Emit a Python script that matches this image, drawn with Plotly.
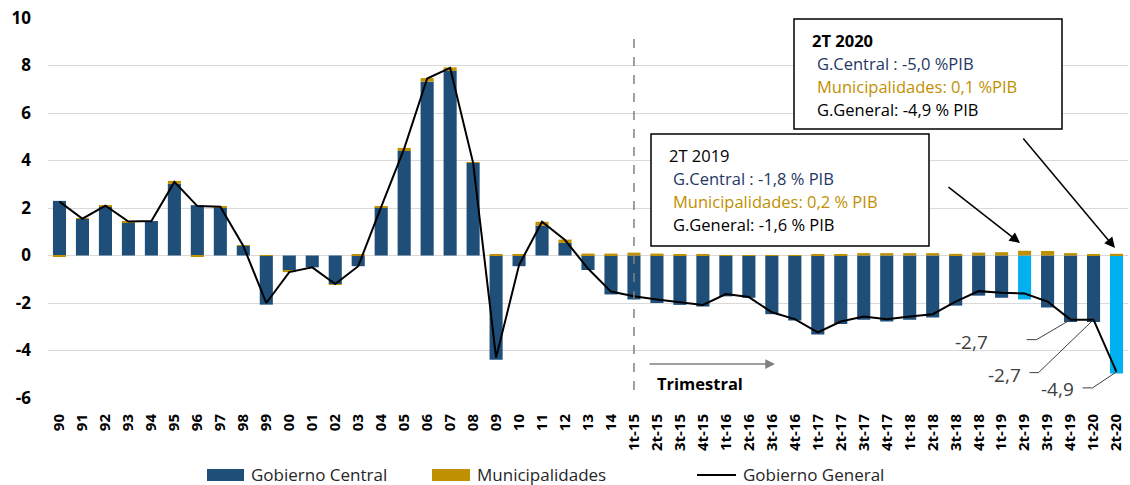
import plotly.graph_objects as go

# ---------------- data ----------------
categories = ["90", "91", "92", "93", "94", "95", "96", "97", "98", "99",
              "00", "01", "02", "03", "04", "05", "06", "07", "08", "09",
              "10", "11", "12", "13", "14",
              "1t-15", "2t-15", "3t-15", "4t-15", "1t-16", "2t-16", "3t-16", "4t-16",
              "1t-17", "2t-17", "3t-17", "4t-17", "1t-18", "2t-18", "3t-18", "4t-18",
              "1t-19", "2t-19", "3t-19", "4t-19", "1t-20", "2t-20"]

gob_central = [2.30, 1.55, 2.05, 1.39, 1.45, 3.02, 2.12, 2.00, 0.40, -2.07,
               -0.63, -0.50, -1.20, -0.45, 2.03, 4.40, 7.32, 7.77, 3.90, -4.39,
               -0.45, 1.25, 0.53, -0.61, -1.64,
               -1.85, -2.00, -2.08, -2.15, -1.72, -1.78, -2.47, -2.74,
               -3.33, -2.88, -2.71, -2.78, -2.71, -2.61, -2.11, -1.69,
               -1.78, -1.85, -2.19, -2.80, -2.80, -4.97]

municipalidades = [-0.03, 0.02, 0.07, 0.05, 0.00, 0.12, -0.05, 0.07, 0.02, 0.02,
                   -0.07, 0.00, -0.02, 0.03, 0.02, 0.13, 0.15, 0.15, 0.03, 0.06,
                   0.05, 0.17, 0.14, 0.08, 0.08,
                   0.12, 0.08, 0.06, 0.03, 0.02, 0.01, 0.02, 0.02,
                   0.03, 0.05, 0.10, 0.10, 0.10, 0.10, 0.07, 0.12,
                   0.14, 0.20, 0.19, 0.10, 0.04, 0.07]

gob_general = [2.27, 1.55, 2.10, 1.43, 1.45, 3.10, 2.08, 2.05, 0.40, -2.00,
               -0.70, -0.50, -1.20, -0.45, 2.05, 4.50, 7.45, 7.90, 3.90, -4.30,
               -0.40, 1.42, 0.65, -0.55, -1.52,
               -1.72, -1.85, -1.95, -2.08, -1.62, -1.75, -2.39, -2.68,
               -3.24, -2.78, -2.57, -2.68, -2.57, -2.47, -1.94, -1.50,
               -1.57, -1.60, -1.94, -2.70, -2.70, -4.90]

highlight = ["2t-19", "2t-20"]
labelled = ["4t-19", "1t-20", "2t-20"]

y_ticks = [-6, -4, -2, 0, 2, 4, 6, 8, 10]

# ---------------- style ----------------
C_GC = "#1F4E79"
C_HL = "#00B0F0"
C_MUN = "#BF9000"
C_TXT_GC = "#1F3864"
FONT = "Open Sans"

W, H = 1130, 485
L, R, T, B = 48, 1128, 18, 398


def px(x):
    return (x - L) / (R - L)


def py(y):
    return (B - y) / (B - T)


gc_colors = [C_HL if c in highlight else C_GC for c in categories]

fig = go.Figure()
fig.add_trace(go.Bar(x=categories, y=gob_central, name="Gobierno Central",
                     marker=dict(color=gc_colors, line=dict(width=0))))
fig.add_trace(go.Bar(x=categories, y=municipalidades, name="Municipalidades",
                     marker=dict(color=C_MUN, line=dict(width=0))))
fig.add_trace(go.Scatter(x=categories, y=gob_general, name="Gobierno General",
                         mode="lines", line=dict(color="black", width=2)))

fig.update_layout(
    width=W, height=H,
    margin=dict(l=L, r=W - R, t=T, b=H - B),
    barmode="relative",
    bargap=0.43,
    plot_bgcolor="white",
    paper_bgcolor="white",
    showlegend=False,
    font=dict(family=FONT, color="black"),
)

fig.update_xaxes(type="category", tickangle=-90, showgrid=False, showline=False,
                 ticks="", tickfont=dict(family=FONT, size=15, color="black", weight="bold"),
                 ticklabelstandoff=12)
fig.update_yaxes(range=[-6, 10], tickvals=y_ticks, ticktext=[str(v) for v in y_ticks],
                 showgrid=True, gridcolor="#D9D9D9",
                 gridwidth=1, zeroline=True, zerolinecolor="#D9D9D9", zerolinewidth=1,
                 showline=False, ticks="",
                 tickfont=dict(family=FONT, size=17, color="black", weight="bold"),
                 ticklabelstandoff=16)

shapes = []
annotations = []

# dashed separator at first quarterly category
sep_idx = categories.index("1t-15")
shapes.append(dict(type="line", xref="x", yref="paper", x0=sep_idx, x1=sep_idx,
                   y0=py(390), y1=py(32), line=dict(color="#808080", width=1.5, dash="dash")))

# Trimestral arrow and label
annotations.append(dict(xref="paper", yref="paper", x=px(775), y=py(364), ax=-127, ay=0,
                        axref="pixel", ayref="pixel", text="", showarrow=True,
                        arrowhead=2, arrowsize=1.3, arrowwidth=1.5, arrowcolor="#808080"))
annotations.append(dict(xref="paper", yref="paper", x=px(655), y=py(383), xanchor="left",
                        yanchor="middle", text="<b>Trimestral</b>", showarrow=False,
                        font=dict(family=FONT, size=16.5, color="black")))

# Boxes
shapes.append(dict(type="rect", xref="paper", yref="paper", x0=px(651), x1=px(929),
                   y0=py(246), y1=py(134), line=dict(color="black", width=1.5),
                   fillcolor="white"))
shapes.append(dict(type="rect", xref="paper", yref="paper", x0=px(794), x1=px(1062),
                   y0=py(129), y1=py(19), line=dict(color="black", width=1.5),
                   fillcolor="white"))

box_lines = [
    (667, 155, "2T 2019", "black"),
    (671, 178, "G.Central : -1,8 % PIB", C_TXT_GC),
    (671, 201, "Municipalidades: 0,2 % PIB", C_MUN),
    (671, 224, "G.General: -1,6 % PIB", "black"),
    (810, 41, "<b>2T 2020</b>", "black"),
    (815, 63, "G.Central : -5,0 %PIB", C_TXT_GC),
    (815, 86, "Municipalidades: 0,1 %PIB", C_MUN),
    (815, 110, "G.General: -4,9 % PIB", "black"),
]
for x, y, t, c in box_lines:
    annotations.append(dict(xref="paper", yref="paper", x=px(x), y=py(y), xanchor="left",
                            yanchor="middle", text=t, showarrow=False,
                            font=dict(family=FONT, size=16.5, color=c)))

# pointer arrows
annotations.append(dict(xref="paper", yref="paper", x=px(1020), y=py(243), ax=-73, ay=-57,
                        axref="pixel", ayref="pixel", text="", showarrow=True,
                        arrowhead=2, arrowsize=1.4, arrowwidth=1.5, arrowcolor="black"))
annotations.append(dict(xref="paper", yref="paper", x=px(1115), y=py(248), ax=-93, ay=-111,
                        axref="pixel", ayref="pixel", text="", showarrow=True,
                        arrowhead=2, arrowsize=1.4, arrowwidth=1.5, arrowcolor="black"))

# value labels with bent leader lines (pixel offsets relative to the data point, y up)
label_offsets = {
    # cat: (label right-edge shift x, shift y, elbow near point (x, y), elbow far (x, y))
    "4t-19": (-81, -22, (-34, -20), (-44, -20)),
    "1t-20": (-71, -55, (-55, -53), (-64, -53)),
    "2t-20": (-41, -17, (-24, -16), (-34, -16)),
}
for cat in labelled:
    i = categories.index(cat)
    val = gob_general[i]
    sx, sy, (e1x, e1y), (e2x, e2y) = label_offsets[cat]
    annotations.append(dict(xref="x", yref="y", x=i, y=val, xshift=sx, yshift=sy,
                            xanchor="right", yanchor="middle",
                            text=f"{val:.1f}".replace(".", ","), showarrow=False,
                            font=dict(family=FONT, size=19, color="#404040")))
    for (ax0, ay0), (ax1, ay1) in [((0, 0), (e1x, e1y)), ((e1x, e1y), (e2x, e2y))]:
        shapes.append(dict(type="line", xref="x", yref="y",
                           xsizemode="pixel", ysizemode="pixel",
                           xanchor=i, yanchor=val,
                           x0=ax0, y0=ay0, x1=ax1, y1=ay1,
                           line=dict(color="#404040", width=1)))

# custom legend
shapes.append(dict(type="rect", xref="paper", yref="paper", x0=px(207), x1=px(244),
                   y0=py(481), y1=py(469), line=dict(width=0), fillcolor=C_GC))
shapes.append(dict(type="rect", xref="paper", yref="paper", x0=px(432), x1=px(470),
                   y0=py(481), y1=py(469), line=dict(width=0), fillcolor=C_MUN))
shapes.append(dict(type="line", xref="paper", yref="paper", x0=px(697), x1=px(736),
                   y0=py(475), y1=py(475), line=dict(color="black", width=2)))
for x, t in [(249, "Gobierno Central"), (475, "Municipalidades"), (741, "Gobierno General")]:
    annotations.append(dict(xref="paper", yref="paper", x=px(x), y=py(474), xanchor="left",
                            yanchor="middle", text=t, showarrow=False,
                            font=dict(family=FONT, size=17, color="#262626")))

fig.update_layout(shapes=shapes, annotations=annotations)
fig.write_html("out.html", config={"displayModeBar": False},
               post_script="document.body.style.margin='0';document.body.style.overflow='hidden';")
